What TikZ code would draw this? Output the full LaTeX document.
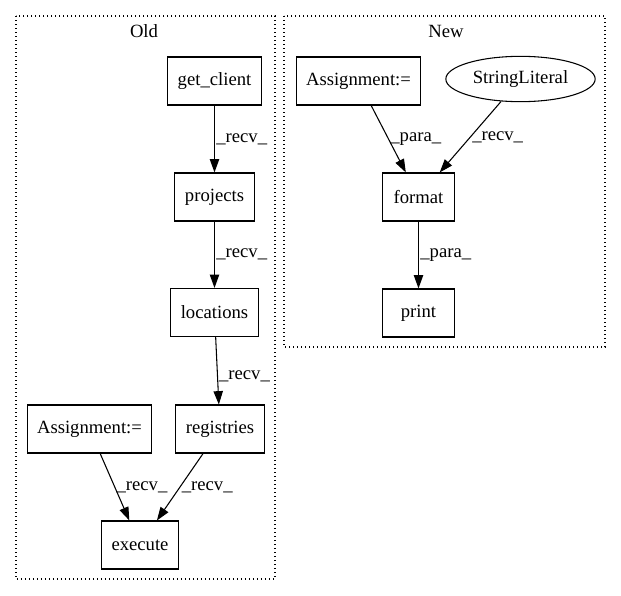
\documentclass[tikz,border=0pt]{standalone}
\usepackage{fontspec}
\setmainfont{Liberation Serif}
\usepackage{tikz}
\usetikzlibrary{arrows.meta,shapes.geometric}

\begin{document}
\begin{tikzpicture}[x=0.75pt,y=-0.75pt,line width=0.8pt,
    >={Triangle[length=10pt,width=7pt]},
    every node/.style={font=\fontsize{14pt}{16pt}\selectfont},
    box/.style={draw,minimum height=36pt,minimum width=54pt,inner xsep=7.5pt},
    oval/.style={draw,ellipse,minimum height=34pt,minimum width=112pt},
    lbl/.style={midway,anchor=west,inner sep=1pt},
    cluster/.style={draw,dash pattern=on 0.8pt off 2.2pt}]
      \useasboundingbox (0,0) rectangle (621,596);
      \draw[cluster] (16,16) rectangle (275,579);
      \draw[cluster] (284,16) rectangle (605,347);
      \node(Old) at (144,31) {Old};
      \node(New) at (446,31) {New};
      \node[box](getclient) at (214.5,81) {get\_client};
      \node[box](projects) at (214.5,197) {projects};
      \node[box](locations) at (214.5,312.5) {locations};
      \node[box](registries) at (220,429) {registries};
      \node[box](assignold) at (89.5,429) {Assignment:=};
      \node[box](execute) at (140,545) {execute};
      \node[box](assignnew) at (358.5,81) {Assignment:=};
      \node[oval](strlit) at (520.5,79) {StringLiteral};
      \node[box](format) at (418.5,197) {format};
      \node[box](print) at (418.5,313) {print};
      \draw[->] (getclient) -- (projects) node[lbl] {\_recv\_};
      \draw[->] (projects) -- (locations) node[lbl] {\_recv\_};
      \draw[->] (locations) -- (registries) node[lbl,yshift=-4] {\_recv\_};
      \draw[->] (assignold) -- (execute) node[lbl] {\_recv\_};
      \draw[->] (registries) -- (execute) node[lbl] {\_recv\_};
      \draw[->] (assignnew) -- (format) node[lbl] {\_para\_};
      \draw[->] (strlit) -- (format) node[lbl] {\_recv\_};
      \draw[->] (format) -- (print) node[lbl] {\_para\_};
\end{tikzpicture}
\end{document}
